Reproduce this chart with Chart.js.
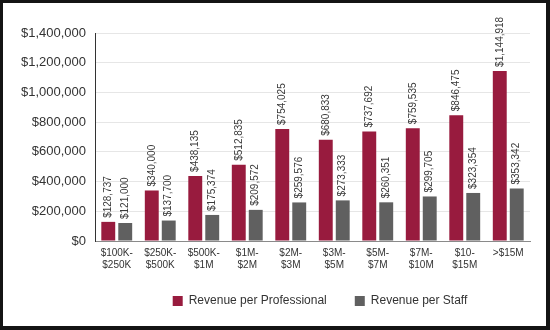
<!DOCTYPE html>
<html>
<head>
<meta charset="utf-8">
<script src="https://cdn.jsdelivr.net/npm/chart.js@4/dist/chart.umd.min.js"></script>
<style>
  html, body { margin: 0; padding: 0; background: #fff; }
  #frame { width: 550px; height: 330px; box-sizing: border-box; border-style: solid; border-color: #141414;
           border-width: 3px 4px 4px 3px; background: #fff; }
  canvas { display: block; }
</style>
</head>
<body>
<div id="frame"><canvas id="c" width="543" height="323"></canvas></div>
<script>
const categories = [["$100K-","$250K"],["$250K-","$500K"],["$500K-","$1M"],["$1M-","$2M"],["$2M-","$3M"],
                    ["$3M-","$5M"],["$5M-","$7M"],["$7M-","$10M"],["$10-","$15M"],[">$15M"]];
const revenuePerProfessional = [128737, 340000, 438135, 512835, 754025, 680833, 737692, 759535, 846475, 1144918];
const revenuePerStaff = [121000, 137700, 175374, 209572, 259576, 273333, 260351, 299705, 323354, 353342];
const seriesNames = ["Revenue per Professional", "Revenue per Staff"];
const yMax = 1400000, yStep = 200000;

const money = v => '$' + Number(v).toLocaleString('en-US');
const FONT = "'Liberation Sans', Arial, Helvetica, sans-serif";

const valueLabels = {
  id: 'valueLabels',
  afterDatasetsDraw(chart) {
    const ctx = chart.ctx;
    chart.data.datasets.forEach((ds, i) => {
      const meta = chart.getDatasetMeta(i);
      meta.data.forEach((bar, j) => {
        ctx.save();
        ctx.translate(bar.x, bar.y - 4);
        ctx.rotate(-Math.PI / 2);
        ctx.font = "10px " + FONT;
        ctx.fillStyle = '#3a3a3a';
        ctx.textAlign = 'left';
        ctx.textBaseline = 'middle';
        ctx.fillText(money(ds.data[j]), 0, 0);
        ctx.restore();
      });
    });
  }
};
const legendShift = {
  id: 'legendShift',
  afterLayout(chart) {
    const lg = chart.legend;
    if (!lg) return;
    const d = 317 - (lg.left + lg.right) / 2;
    lg.left += d; lg.right += d;
    lg.top -= 9; lg.bottom -= 9;
  }
};

new Chart(document.getElementById('c'), {
  type: 'bar',
  data: {
    labels: categories,
    datasets: [
      { label: seriesNames[0], data: revenuePerProfessional, backgroundColor: '#981b3e' },
      { label: seriesNames[1], data: revenuePerStaff, backgroundColor: '#606060' }
    ]
  },
  options: {
    responsive: false,
    animation: false,
    devicePixelRatio: 1,
    layout: { padding: { top: 30, right: 16, bottom: 0, left: 0 } },
    datasets: { bar: { categoryPercentage: 0.78, barPercentage: 0.82 } },
    plugins: {
      tooltip: { enabled: false },
      legend: {
        position: 'bottom',
        labels: { boxWidth: 10, boxHeight: 10, padding: 28, color: '#333', font: { family: FONT, size: 12 } }
      }
    },
    scales: {
      x: {
        grid: { display: false, drawTicks: false },
        border: { display: true, color: '#8a8a8a', width: 1 },
        ticks: { color: '#333', font: { family: FONT, size: 10 }, padding: 6, maxRotation: 0, autoSkip: false },
        afterFit(s) { s.height = 35; }
      },
      y: {
        min: 0, max: yMax,
        grid: { color: '#e6e6e6', drawTicks: false },
        border: { display: true, color: '#333', width: 1 },
        ticks: { stepSize: yStep, color: '#333', padding: 9, font: { family: FONT, size: 13 }, callback: v => money(v) },
        afterFit(s) { s.width = 92; }
      }
    }
  },
  plugins: [valueLabels, legendShift]
});
</script>
</body>
</html>
